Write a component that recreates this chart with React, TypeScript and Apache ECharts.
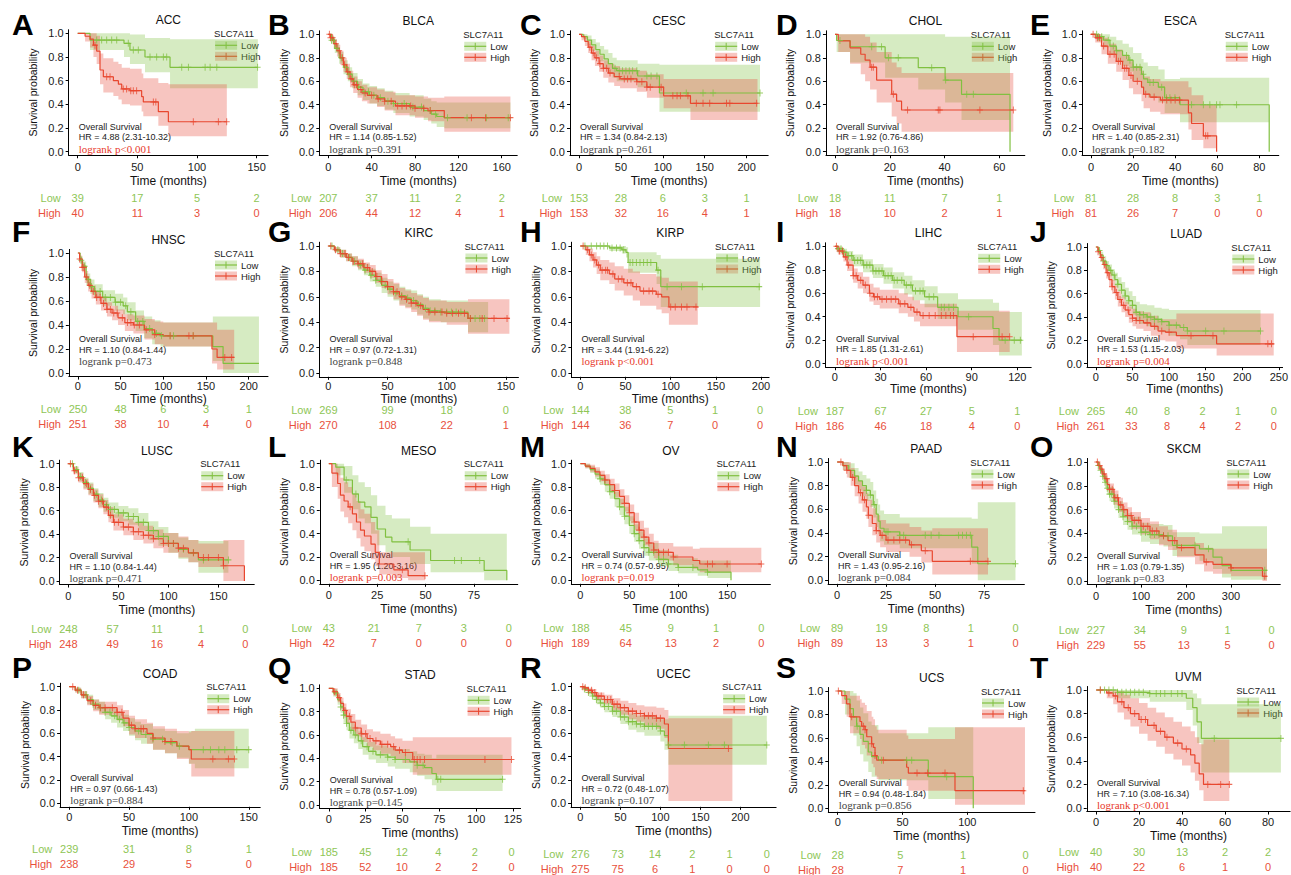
import React, { useEffect, useRef } from "react";
import * as echarts from "echarts";

// ---------------- data ----------------
const CANCERS = ["ACC","BLCA","CESC","CHOL","ESCA","HNSC","KIRC","KIRP","LIHC","LUAD","LUSC","MESO","OV","PAAD","SKCM","COAD","STAD","UCEC","UCS","UVM"];
const LETTERS = ["A","B","C","D","E","F","G","H","I","J","K","L","M","N","O","P","Q","R","S","T"];
const X_TICKS = [
  [0,50,100,150],[0,40,80,120,160],[0,50,100,150,200],[0,20,40,60],[0,20,40,60,80],
  [0,50,100,150,200],[0,50,100,150],[0,50,100,150,200],[0,30,60,90,120],[0,50,100,150,200,250],
  [0,50,100,150],[0,25,50,75],[0,50,100,150],[0,25,50,75],[0,100,200,300],
  [0,50,100,150],[0,25,50,75,100,125],[0,50,100,150,200],[0,50,100],[0,20,40,60,80],
];
const X_MAX = [152,166,215,66,85,212,153,199,123,243,177,93,185,91,390,152,124,233,145,86];
const Y_TICKS = [0,0.2,0.4,0.6,0.8,1.0];
const HR_TEXT = [
  "HR = 4.88 (2.31-10.32)","HR = 1.14 (0.85-1.52)","HR = 1.34 (0.84-2.13)","HR = 1.92 (0.76-4.86)","HR = 1.40 (0.85-2.31)",
  "HR = 1.10 (0.84-1.44)","HR = 0.97 (0.72-1.31)","HR = 3.44 (1.91-6.22)","HR = 1.85 (1.31-2.61)","HR = 1.53 (1.15-2.03)",
  "HR = 1.10 (0.84-1.44)","HR = 1.95 (1.20-3.16)","HR = 0.74 (0.57-0.95)","HR = 1.43 (0.95-2.16)","HR = 1.03 (0.79-1.35)",
  "HR = 0.97 (0.66-1.43)","HR = 0.78 (0.57-1.09)","HR = 0.72 (0.48-1.07)","HR = 0.94 (0.48-1.84)","HR = 7.10 (3.08-16.34)",
];
const P_TEXT = [
  "logrank p<0.001","logrank p=0.391","logrank p=0.261","logrank p=0.163","logrank p=0.182",
  "logrank p=0.473","logrank p=0.848","logrank p<0.001","logrank p<0.001","logrank p=0.004",
  "logrank p=0.471","logrank p=0.003","logrank p=0.019","logrank p=0.084","logrank p=0.83",
  "logrank p=0.884","logrank p=0.145","logrank p=0.107","logrank p=0.856","logrank p<0.001",
];
const P_SIG = [true,false,false,false,false,false,false,true,true,true,false,true,true,false,false,false,false,false,false,true];
const RISK_LOW = [
  [39,17,5,2],[207,37,11,2,2],[153,28,6,3,1],[18,11,7,1],[81,28,8,3,1],
  [250,48,6,3,1],[269,99,18,0],[144,38,5,1,0],[187,67,27,5,1],[265,40,8,2,1,0],
  [248,57,11,1,0],[43,21,7,3,0],[188,45,9,1,0],[89,19,8,1,0],[227,34,9,1,0],
  [239,31,8,1],[185,45,12,4,2,0],[276,73,14,2,1,0],[28,5,1,0],[40,30,13,2,2],
];
const RISK_HIGH = [
  [40,11,3,0],[206,44,12,4,1],[153,32,16,4,1],[18,10,2,1],[81,26,7,0,0],
  [251,38,10,4,0],[270,108,22,1],[144,36,7,0,0],[186,46,18,4,0],[261,33,8,4,2,0],
  [248,49,16,4,0],[42,7,0,0,0],[189,64,13,2,0],[89,13,3,1,0],[229,55,13,5,0],
  [238,29,5,0],[185,52,10,2,2,0],[275,75,6,1,0,0],[28,7,1,0],[40,22,6,1,0],
];

// curves: [time, survival, lower CI, upper CI]
const ACC_LOW = [[0,1,1,1],[10.3,0.943,0.86,1],[38.8,0.915,0.80,1],[43.8,0.859,0.74,0.99],[56.4,0.80,0.67,0.96],[77.4,0.713,0.535,0.95],[151,0.713,0.535,0.95]];
const ACC_HIGH = [[0,1,1,1],[6.2,0.975,0.93,1],[10.4,0.95,0.88,1],[13.2,0.90,0.80,1],[15.9,0.85,0.74,0.98],[18.7,0.69,0.57,0.83],[21.5,0.633,0.50,0.79],[29.9,0.60,0.47,0.76],[34.1,0.57,0.44,0.74],[36.9,0.53,0.40,0.71],[43.8,0.515,0.39,0.70],[53.6,0.465,0.34,0.66],[55,0.42,0.30,0.62],[67.6,0.338,0.22,0.58],[76,0.253,0.13,0.57],[125,0.253,0.13,0.57]];
const ACC_LOW_CENS = [15.9,20.1,24.3,28.5,32.7,42.4,46.6,50.8,60.6,66.2,71.8,74.6,87.2,92.8,106.8,111,116.6,150.8];
const ACC_HIGH_CENS = [14.5,24.3,27.1,38.2,41,44.5,46.6,49.4,63.4,65.5,96.9,117.9,124.9];

const BLCA_LOW = [[0,1,1,1],[3,0.95,0.92,0.98],[6,0.88,0.84,0.92],[10,0.80,0.75,0.85],[14,0.72,0.66,0.78],[18,0.66,0.60,0.72],[22,0.60,0.54,0.67],[27,0.55,0.48,0.62],[32,0.51,0.44,0.58],[38,0.48,0.41,0.56],[45,0.46,0.39,0.54],[52,0.43,0.36,0.52],[60,0.41,0.33,0.50],[75,0.38,0.30,0.48],[88,0.35,0.27,0.45],[95,0.32,0.24,0.43],[100,0.30,0.21,0.42],[107,0.29,0.20,0.42],[168,0.29,0.20,0.42]];
const BLCA_HIGH = [[0,1,1,1],[2,0.97,0.95,0.99],[5,0.92,0.88,0.96],[8,0.86,0.81,0.91],[11,0.80,0.74,0.86],[14,0.74,0.68,0.80],[17,0.68,0.62,0.75],[20,0.62,0.55,0.69],[23,0.57,0.50,0.64],[27,0.53,0.46,0.60],[31,0.50,0.43,0.57],[36,0.48,0.41,0.55],[45,0.45,0.38,0.53],[52,0.43,0.35,0.51],[62,0.39,0.31,0.48],[80,0.37,0.29,0.47],[92,0.35,0.26,0.46],[107,0.29,0.17,0.47],[168,0.29,0.17,0.47]];
const BLCA_LOW_CENS = [3,5,8,12,16,19,24,28,33,37,42,48,55,60,70,78,86,94,99,110,128,146,166];
const BLCA_HIGH_CENS = [1,2,4,7,10,13,15,18,21,24,26,30,34,40,46,52,58,64,68,72,76,80,88,94,132,145,168];

const CESC_LOW = [[0,1,1,1],[5,0.98,0.96,1],[10,0.95,0.91,0.99],[15,0.91,0.86,0.96],[20,0.87,0.81,0.93],[25,0.83,0.77,0.90],[30,0.79,0.72,0.87],[35,0.75,0.67,0.84],[40,0.71,0.63,0.80],[45,0.69,0.60,0.78],[70,0.645,0.55,0.75],[96,0.50,0.34,0.74],[216,0.50,0.34,0.74]];
const CESC_HIGH = [[0,1,1,1],[3,0.98,0.95,1],[7,0.94,0.90,0.98],[11,0.89,0.84,0.94],[15,0.84,0.78,0.90],[19,0.80,0.73,0.86],[24,0.75,0.68,0.82],[29,0.71,0.63,0.78],[35,0.67,0.59,0.75],[42,0.64,0.56,0.73],[49,0.62,0.54,0.71],[69,0.596,0.51,0.69],[81,0.55,0.46,0.66],[101,0.476,0.37,0.62],[133,0.412,0.27,0.62],[213,0.412,0.27,0.62]];
const CESC_LOW_CENS = [43,48,52,56,60,64,69,81,86,93,128,148,160,216];
const CESC_HIGH_CENS = [13,17,21,25,29,33,37,48,54,58,62,69,75,81,85,98,112,117,121,130,140,148,156,176,180,212];

const CHOL_LOW = [[0,1,1,1],[0.6,0.947,0.85,1],[5.5,0.894,0.76,1],[18.3,0.80,0.63,1],[30.4,0.716,0.53,1],[40.2,0.61,0.42,0.98],[46.2,0.489,0.27,0.98],[63.9,0,0,0]];
const CHOL_HIGH = [[0,1,1,1],[1.2,0.944,0.85,1],[5.5,0.885,0.75,1],[9.4,0.83,0.66,1],[11,0.78,0.60,0.98],[12.8,0.72,0.53,0.93],[15.2,0.61,0.42,0.85],[20.7,0.49,0.30,0.76],[22.5,0.43,0.24,0.72],[24.3,0.355,0.17,0.67],[65.1,0.355,0.17,0.67]];
const CHOL_LOW_CENS = [1.8,13.4,17,19.5,23.1,35.3,40.4,48.1,50.5];
const CHOL_HIGH_CENS = [13.4,14,21.3,26.5,37.7,38.3,52.9,65.1];

const ESCA_LOW = [[0,1,1,1],[3,0.98,0.94,1],[6,0.95,0.89,1],[9,0.90,0.83,0.98],[12,0.86,0.78,0.95],[15,0.82,0.73,0.92],[18,0.78,0.68,0.89],[20,0.72,0.61,0.84],[24,0.66,0.54,0.79],[25,0.62,0.50,0.76],[27,0.59,0.46,0.73],[32,0.55,0.42,0.70],[35,0.46,0.33,0.62],[42.3,0.40,0.25,0.63],[84.7,0,0,0]];
const ESCA_HIGH = [[0,1,1,1],[2,0.97,0.93,1],[5,0.90,0.83,0.97],[8,0.83,0.75,0.92],[12,0.77,0.68,0.87],[15,0.71,0.61,0.82],[18,0.65,0.54,0.77],[20,0.60,0.49,0.73],[24,0.55,0.43,0.69],[25,0.49,0.37,0.64],[28,0.465,0.34,0.62],[33,0.44,0.32,0.60],[46.3,0.33,0.19,0.55],[47.8,0.24,0.10,0.48],[53.4,0.135,0.03,0.40],[59.7,0,0,0]];
const ESCA_LOW_CENS = [2.7,3.5,5.1,8.2,10.6,12.2,16.9,18.5,20.1,21.7,23.3,24.9,28,29.6,33.6,35.9,37.5,39.9,47.8,53.4,56.5,59.7,61.3,69.2];
const ESCA_HIGH_CENS = [1,3,4,6,9,11,13,14,16,17,19,22,26,30,34,36,38,40,42,54.5,55.5];

const HNSC_LOW = [[0,1,1,1],[2.6,0.94,0.91,0.97],[5.5,0.89,0.85,0.93],[9.7,0.78,0.73,0.83],[14.5,0.72,0.66,0.78],[19.4,0.68,0.62,0.74],[29,0.63,0.56,0.69],[43.5,0.59,0.52,0.66],[53,0.56,0.49,0.63],[57.9,0.51,0.44,0.59],[67.6,0.43,0.35,0.52],[77.4,0.37,0.29,0.47],[87,0.33,0.24,0.44],[96.7,0.31,0.22,0.42],[158,0.22,0.10,0.47],[170,0.08,0,0.47],[212,0.08,0,0.47]];
const HNSC_HIGH = [[0,1,1,1],[2,0.95,0.92,0.98],[5,0.88,0.84,0.92],[8,0.80,0.75,0.85],[12,0.73,0.68,0.78],[16,0.68,0.62,0.73],[21,0.63,0.57,0.68],[27,0.58,0.52,0.64],[34,0.53,0.47,0.59],[40,0.50,0.44,0.56],[47,0.46,0.40,0.53],[55,0.42,0.35,0.49],[65,0.40,0.33,0.48],[78,0.36,0.28,0.45],[90,0.32,0.24,0.43],[100,0.31,0.22,0.42],[157,0.20,0.08,0.42],[163,0.13,0.03,0.36],[183,0.13,0.03,0.36]];
const HNSC_LOW_CENS = [4,8,12,16,20,26,32,38,44,50,56,62,70,76,84,92,98,108,112,135];
const HNSC_HIGH_CENS = [2,5,7,10,14,18,22,26,30,34,38,42,46,52,58,62,66,72,80,90,108,130,135,172,180];

const KIRC_LOW = [[0,1,1,1],[5,0.97,0.95,0.99],[10,0.94,0.91,0.97],[15,0.91,0.88,0.94],[20,0.88,0.84,0.92],[25,0.85,0.81,0.89],[30,0.81,0.77,0.86],[35,0.77,0.72,0.82],[40,0.73,0.68,0.79],[45,0.69,0.63,0.75],[50,0.66,0.60,0.72],[55,0.63,0.57,0.70],[60,0.61,0.54,0.68],[65,0.59,0.52,0.66],[70,0.57,0.50,0.65],[75,0.54,0.46,0.62],[80,0.51,0.43,0.60],[85,0.49,0.41,0.58],[95,0.48,0.40,0.57],[118,0.43,0.32,0.56],[135,0.43,0.32,0.56]];
const KIRC_HIGH = [[0,1,1,1],[5,0.97,0.95,0.99],[10,0.94,0.91,0.97],[15,0.91,0.88,0.94],[20,0.88,0.85,0.92],[25,0.86,0.82,0.90],[30,0.83,0.79,0.87],[35,0.80,0.75,0.85],[40,0.76,0.71,0.81],[45,0.72,0.67,0.78],[50,0.68,0.62,0.74],[55,0.64,0.58,0.71],[60,0.60,0.53,0.67],[65,0.58,0.51,0.65],[70,0.55,0.48,0.63],[75,0.53,0.45,0.61],[80,0.50,0.42,0.59],[85,0.48,0.40,0.57],[100,0.47,0.38,0.56],[118,0.43,0.31,0.58],[153,0.43,0.31,0.58]];
const KIRC_LOW_CENS = [3,8,12,18,22,27,31,36,40,44,48,52,57,62,67,72,76,82,86,90,95,100,104,108,112,120,124,128,132];
const KIRC_HIGH_CENS = [2,6,10,14,17,21,25,29,33,37,41,45,50,55,58,62,66,70,74,78,85,90,96,100,105,110,115,120,130,140,151];

const KIRP_LOW = [[0,1,1,1],[32,0.985,0.96,1],[46,0.97,0.94,1],[50.5,0.95,0.91,0.99],[52.8,0.87,0.79,0.95],[84.4,0.81,0.70,0.93],[89,0.68,0.52,0.90],[199,0.68,0.52,0.90]];
const KIRP_HIGH = [[0,1,1,1],[6,0.97,0.93,1],[10,0.93,0.88,0.98],[14,0.89,0.83,0.95],[18,0.85,0.78,0.92],[22,0.81,0.73,0.89],[32,0.78,0.70,0.87],[38,0.74,0.65,0.84],[48,0.71,0.61,0.82],[58,0.68,0.57,0.80],[66,0.645,0.53,0.78],[84,0.62,0.50,0.76],[90,0.60,0.47,0.75],[98,0.52,0.38,0.72],[130,0.52,0.38,0.72]];
const KIRP_LOW_CENS = [5,12,18,22,26,30,35,40,44,48,55,58,62,66,70,74,78,86,96,112,135,198];
const KIRP_HIGH_CENS = [3,8,12,16,20,24,28,30,36,42,46,52,56,62,70,76,80,86,100,105,112,118,128];

const LIHC_LOW = [[0,1,1,1],[2,0.98,0.96,1],[5,0.95,0.92,0.98],[8,0.92,0.88,0.96],[12,0.88,0.83,0.93],[18.5,0.84,0.78,0.89],[25,0.79,0.73,0.85],[32,0.75,0.68,0.82],[38,0.71,0.64,0.78],[45.6,0.67,0.59,0.75],[51,0.62,0.54,0.71],[59,0.57,0.48,0.66],[67.6,0.48,0.38,0.60],[81,0.40,0.29,0.55],[104,0.30,0.16,0.52],[108,0.20,0.07,0.44],[123,0.20,0.07,0.44]];
const LIHC_HIGH = [[0,1,1,1],[2,0.96,0.93,0.99],[5.6,0.91,0.87,0.95],[8,0.84,0.79,0.89],[12,0.75,0.69,0.81],[15,0.71,0.64,0.78],[18.5,0.67,0.60,0.74],[22.7,0.60,0.53,0.68],[25.4,0.57,0.50,0.65],[29.5,0.55,0.47,0.63],[42,0.51,0.43,0.60],[48,0.48,0.40,0.57],[52,0.44,0.36,0.54],[56,0.41,0.32,0.51],[80.3,0.23,0.10,0.45],[115,0.23,0.10,0.45]];
const LIHC_LOW_CENS = [2,4,6,9,11,13,15,17,19,21,23,25,27,29,31,33,35,37,39,41,44,47,50,53,56,58,62,65,70,72,75,78,88,112,118,122];
const LIHC_HIGH_CENS = [1,3,5,7,9,12,14,17,20,23,26,28,31,34,37,40,43,46,50,54,58,62,66,70,73,76,78,91,110,115];

const LUAD_LOW = [[0,1,1,1],[3,0.97,0.95,0.99],[6,0.93,0.90,0.96],[10,0.88,0.84,0.92],[14,0.84,0.80,0.88],[18,0.80,0.75,0.85],[22,0.76,0.71,0.81],[26,0.72,0.66,0.78],[30,0.68,0.62,0.74],[35,0.63,0.56,0.70],[40,0.58,0.51,0.65],[45,0.54,0.47,0.62],[50,0.50,0.42,0.58],[55,0.44,0.36,0.53],[60,0.42,0.34,0.51],[70,0.40,0.32,0.50],[80,0.38,0.29,0.48],[90,0.36,0.27,0.47],[100,0.33,0.24,0.46],[115,0.31,0.21,0.46],[125,0.28,0.16,0.46],[225,0.28,0.16,0.46]];
const LUAD_HIGH = [[0,1,1,1],[3,0.96,0.94,0.98],[6,0.91,0.88,0.94],[10,0.85,0.81,0.89],[14,0.78,0.73,0.83],[18,0.72,0.66,0.78],[22,0.66,0.60,0.72],[26,0.61,0.55,0.67],[30,0.55,0.49,0.62],[35,0.50,0.44,0.57],[40,0.46,0.40,0.53],[45,0.42,0.35,0.49],[50,0.39,0.32,0.47],[55,0.37,0.30,0.45],[65,0.35,0.28,0.44],[75,0.32,0.24,0.41],[85,0.28,0.20,0.38],[95,0.27,0.19,0.38],[110,0.24,0.13,0.43],[165,0.17,0.07,0.43],[243,0.17,0.07,0.43]];
const LUAD_LOW_CENS = [5,10,15,20,25,30,35,40,45,50,55,60,65,70,75,80,85,90,100,110,120,125,150,175,225];
const LUAD_HIGH_CENS = [3,8,12,16,22,28,33,38,44,50,55,60,70,80,90,100,130,160,235,240];

const LUSC_LOW = [[0,1,1,1],[5,0.95,0.92,0.98],[10,0.89,0.85,0.93],[15,0.84,0.79,0.88],[20,0.79,0.74,0.84],[25,0.74,0.68,0.79],[30,0.69,0.63,0.75],[35,0.65,0.59,0.71],[40,0.61,0.54,0.67],[50,0.58,0.51,0.64],[60,0.55,0.48,0.62],[70,0.50,0.43,0.58],[80,0.43,0.35,0.51],[90,0.38,0.30,0.46],[100,0.32,0.24,0.41],[110,0.27,0.19,0.37],[120,0.24,0.16,0.35],[130,0.18,0.07,0.34],[160,0.18,0.07,0.34]];
const LUSC_HIGH = [[0,1,1,1],[5,0.94,0.91,0.97],[10,0.88,0.84,0.92],[15,0.83,0.78,0.87],[20,0.78,0.73,0.83],[25,0.73,0.67,0.78],[30,0.68,0.62,0.74],[35,0.63,0.57,0.69],[40,0.56,0.50,0.63],[45,0.50,0.43,0.57],[55,0.46,0.39,0.53],[65,0.42,0.35,0.50],[75,0.39,0.32,0.47],[85,0.36,0.28,0.44],[95,0.32,0.24,0.41],[110,0.28,0.20,0.38],[120,0.24,0.16,0.35],[130,0.20,0.12,0.32],[155,0.13,0,0.35],[176,0,0,0]];
const LUSC_LOW_CENS = [4,8,12,17,22,28,33,38,42,46,50,55,60,65,70,75,80,85,90,95,100,105,115,125,135,160];
const LUSC_HIGH_CENS = [2,6,10,14,18,22,26,30,34,38,42,46,50,55,60,65,70,75,80,85,95,100,105,110,115,125,135,140,150,155];

const MESO_LOW = [[0,1,1,1],[3.6,0.97,0.90,1],[7.9,0.86,0.75,0.98],[12.2,0.74,0.61,0.90],[15.3,0.67,0.53,0.84],[18.6,0.63,0.49,0.80],[21.8,0.54,0.40,0.73],[25,0.44,0.30,0.64],[29.3,0.37,0.24,0.56],[32.6,0.33,0.20,0.53],[42,0.26,0.14,0.46],[52.6,0.17,0.07,0.40],[80.3,0.085,0,0.40],[92,0,0,0]];
const MESO_HIGH = [[0,1,1,1],[1.6,0.92,0.80,1],[4.6,0.83,0.70,0.97],[6,0.73,0.59,0.88],[7.9,0.68,0.54,0.84],[10,0.63,0.49,0.80],[12.2,0.57,0.43,0.74],[14.3,0.50,0.36,0.68],[16.4,0.43,0.29,0.61],[18.4,0.38,0.25,0.57],[21.8,0.31,0.18,0.50],[24,0.24,0.12,0.43],[26.1,0.14,0.05,0.24],[33.6,0.09,0.02,0.24],[41,0.04,0,0.24],[49.7,0.04,0,0.24]];
const MESO_LOW_CENS = [9,14,41,65,68.5,78];
const MESO_HIGH_CENS = [11,38,49.7];

const OV_LOW = [[0,1,1,1],[5,0.98,0.96,1],[10,0.95,0.92,0.98],[15,0.91,0.87,0.95],[20,0.87,0.82,0.91],[25,0.82,0.76,0.87],[30,0.76,0.70,0.82],[35,0.70,0.63,0.76],[40,0.63,0.56,0.70],[45,0.55,0.48,0.63],[50,0.47,0.40,0.55],[55,0.40,0.33,0.48],[60,0.34,0.27,0.42],[65,0.28,0.21,0.36],[70,0.24,0.17,0.32],[80,0.18,0.12,0.26],[90,0.14,0.08,0.22],[100,0.11,0.06,0.19],[120,0.09,0.04,0.17],[130,0.07,0.02,0.17],[154,0,0,0]];
const OV_HIGH = [[0,1,1,1],[5,0.98,0.96,1],[10,0.96,0.93,0.99],[15,0.93,0.89,0.97],[20,0.90,0.85,0.94],[25,0.86,0.81,0.91],[30,0.82,0.76,0.87],[35,0.77,0.71,0.83],[40,0.72,0.65,0.78],[45,0.66,0.59,0.73],[50,0.58,0.51,0.65],[55,0.50,0.43,0.58],[60,0.43,0.36,0.51],[65,0.37,0.30,0.45],[70,0.32,0.25,0.40],[75,0.26,0.19,0.34],[80,0.24,0.17,0.32],[95,0.20,0.13,0.29],[115,0.17,0.10,0.27],[122,0.14,0.07,0.28],[185,0.14,0.07,0.28]];
const OV_LOW_CENS = [20,30,40,45,55,60,65,70,75,80,85,90,100,115,130];
const OV_HIGH_CENS = [25,35,45,50,55,60,65,70,75,80,85,90,95,130,135,150,185];

const PAAD_LOW = [[0,1,1,1],[3,0.97,0.93,1],[6,0.93,0.87,0.99],[9,0.88,0.81,0.95],[11,0.84,0.76,0.92],[13,0.80,0.71,0.89],[15,0.76,0.67,0.86],[17,0.72,0.62,0.83],[18.5,0.64,0.53,0.76],[20,0.56,0.45,0.69],[21,0.50,0.39,0.64],[22,0.44,0.33,0.59],[24,0.41,0.30,0.56],[32,0.38,0.27,0.53],[68.7,0.28,0.14,0.52],[71.8,0.14,0,0.66],[91,0.14,0,0.66]];
const PAAD_HIGH = [[0,1,1,1],[3,0.97,0.93,1],[5,0.93,0.87,1],[7,0.87,0.80,0.95],[9,0.80,0.71,0.89],[11,0.74,0.65,0.84],[13,0.68,0.58,0.79],[15,0.62,0.52,0.74],[16,0.55,0.45,0.68],[18,0.48,0.38,0.61],[20,0.42,0.32,0.55],[22,0.38,0.28,0.51],[25,0.34,0.24,0.48],[37,0.30,0.20,0.45],[43,0.25,0.15,0.42],[48.6,0.16,0.05,0.44],[77,0.16,0.05,0.44]];
const PAAD_LOW_CENS = [15,17,19,25,26,32,34,45,48,52,62,64,66,68,91];
const PAAD_HIGH_CENS = [2,5,8,12,14,16,20,23,26,29,32,35,38,45,68,77];

const SKCM_LOW = [[0,1,1,1],[5,0.97,0.95,0.99],[10,0.93,0.90,0.96],[15,0.88,0.84,0.92],[20,0.83,0.78,0.88],[25,0.78,0.73,0.83],[30,0.73,0.67,0.79],[40,0.67,0.61,0.73],[50,0.60,0.53,0.67],[60,0.54,0.47,0.61],[70,0.50,0.43,0.57],[80,0.46,0.39,0.54],[100,0.41,0.33,0.49],[120,0.39,0.31,0.48],[150,0.38,0.29,0.47],[170,0.30,0.21,0.41],[230,0.27,0.17,0.40],[260,0.20,0.10,0.40],[280,0.13,0.03,0.46],[300,0.09,0.01,0.46],[380,0.09,0.01,0.46]];
const SKCM_HIGH = [[0,1,1,1],[5,0.97,0.95,0.99],[10,0.94,0.91,0.97],[15,0.90,0.86,0.94],[20,0.86,0.82,0.90],[25,0.81,0.76,0.86],[30,0.77,0.72,0.82],[40,0.70,0.64,0.76],[50,0.64,0.58,0.70],[60,0.60,0.54,0.66],[70,0.55,0.49,0.62],[80,0.51,0.44,0.58],[100,0.46,0.39,0.53],[120,0.42,0.35,0.50],[140,0.38,0.30,0.46],[160,0.34,0.26,0.43],[180,0.28,0.20,0.37],[220,0.22,0.14,0.32],[240,0.16,0.08,0.28],[260,0.14,0.06,0.27],[300,0.11,0.04,0.27],[370,0.04,0,0.27],[380,0.04,0,0.27]];
const SKCM_LOW_CENS = [5,10,15,20,25,30,35,40,50,60,70,80,90,100,110,120,130,140,150,160,180,220,250,375];
const SKCM_HIGH_CENS = [3,8,12,18,24,30,36,42,48,55,62,70,78,85,95,105,115,125,135,150,175,190,245,300,375];

const COAD_LOW = [[0,1,1,1],[5,0.97,0.95,0.99],[10,0.93,0.90,0.96],[15,0.89,0.85,0.93],[20,0.85,0.80,0.89],[25,0.82,0.77,0.87],[30,0.78,0.72,0.83],[35,0.75,0.69,0.81],[40,0.72,0.65,0.78],[45,0.69,0.62,0.76],[50,0.65,0.58,0.73],[55,0.62,0.54,0.70],[60,0.59,0.51,0.68],[70,0.55,0.46,0.64],[80,0.52,0.43,0.62],[90,0.49,0.39,0.60],[100,0.46,0.34,0.62],[105,0.46,0.30,0.64],[150,0.46,0.30,0.64]];
const COAD_HIGH = [[0,1,1,1],[5,0.97,0.95,0.99],[10,0.93,0.90,0.96],[15,0.88,0.84,0.92],[20,0.84,0.79,0.89],[25,0.82,0.76,0.87],[40,0.78,0.71,0.84],[45,0.73,0.66,0.80],[50,0.67,0.59,0.75],[55,0.64,0.56,0.72],[65,0.60,0.51,0.69],[70,0.56,0.46,0.66],[80,0.53,0.43,0.64],[90,0.49,0.38,0.62],[100,0.46,0.34,0.61],[102,0.38,0.23,0.62],[138,0.38,0.23,0.62]];
const COAD_LOW_CENS = [8,14,20,26,30,34,38,42,46,50,58,64,70,78,86,92,112,118,125,130,140,150];
const COAD_HIGH_CENS = [3,7,12,18,22,26,30,36,40,44,52,55,60,62,70,80,85,120,133,138];

const STAD_LOW = [[0,1,1,1],[3,0.96,0.93,0.99],[6,0.90,0.86,0.94],[8,0.84,0.79,0.89],[10,0.77,0.71,0.83],[12,0.70,0.64,0.77],[14,0.64,0.57,0.71],[17,0.60,0.53,0.67],[20,0.55,0.48,0.63],[23,0.50,0.43,0.58],[27,0.46,0.39,0.54],[32,0.43,0.36,0.51],[40,0.41,0.33,0.49],[45,0.39,0.31,0.48],[55,0.37,0.28,0.46],[60,0.34,0.25,0.44],[65,0.32,0.22,0.43],[70,0.27,0.17,0.40],[73,0.22,0.12,0.43],[118,0.22,0.12,0.43]];
const STAD_HIGH = [[0,1,1,1],[3,0.97,0.94,1],[6,0.92,0.88,0.96],[8,0.87,0.82,0.92],[10,0.81,0.75,0.87],[12,0.76,0.70,0.82],[15,0.71,0.64,0.78],[18,0.66,0.59,0.73],[22,0.61,0.54,0.69],[26,0.57,0.50,0.65],[30,0.55,0.47,0.63],[35,0.52,0.44,0.61],[42,0.50,0.42,0.59],[45,0.47,0.39,0.57],[50,0.45,0.36,0.55],[57,0.39,0.26,0.58],[124,0.39,0.26,0.58]];
const STAD_LOW_CENS = [5,8,10,12,15,18,22,26,30,35,40,45,52,60,64,74,76,118];
const STAD_HIGH_CENS = [4,7,11,14,18,22,25,28,32,36,40,44,48,52,58,60,62,65,106,124];

const UCEC_LOW = [[0,1,1,1],[5,0.98,0.96,1],[10,0.95,0.93,0.97],[15,0.92,0.89,0.95],[20,0.89,0.85,0.93],[25,0.86,0.82,0.90],[30,0.83,0.78,0.88],[40,0.79,0.74,0.84],[50,0.74,0.68,0.80],[60,0.70,0.63,0.77],[70,0.68,0.61,0.75],[80,0.66,0.58,0.74],[100,0.62,0.53,0.72],[105,0.58,0.46,0.72],[110,0.50,0.33,0.75],[233,0.50,0.33,0.75]];
const UCEC_HIGH = [[0,1,1,1],[5,0.99,0.98,1],[10,0.97,0.95,0.99],[15,0.95,0.92,0.98],[20,0.92,0.89,0.95],[30,0.89,0.85,0.93],[40,0.85,0.80,0.90],[50,0.82,0.76,0.88],[60,0.79,0.72,0.86],[70,0.77,0.70,0.84],[80,0.75,0.67,0.83],[95,0.73,0.64,0.82],[105,0.68,0.56,0.80],[110,0.47,0.02,0.73],[190,0.47,0.02,0.73]];
const UCEC_LOW_CENS = [5,10,15,20,25,30,35,40,45,50,55,60,65,70,75,80,85,90,95,100,110,130,160,180,233];
const UCEC_HIGH_CENS = [3,6,10,14,18,22,26,30,34,38,42,46,50,55,60,65,70,75,80,85,90,95,100,185];

const UCS_LOW = [[0,1,1,1],[5.6,0.93,0.80,1],[9.5,0.85,0.70,1],[12.1,0.78,0.62,0.98],[14.6,0.70,0.53,0.92],[17.2,0.63,0.46,0.86],[19.8,0.57,0.40,0.81],[23.6,0.48,0.31,0.74],[26.2,0.44,0.27,0.71],[31.4,0.41,0.24,0.64],[69.9,0.27,0.08,0.69],[104.6,0,0,0]];
const UCS_HIGH = [[0,1,1,1],[3.1,0.96,0.89,1],[6.9,0.89,0.78,1],[9.5,0.78,0.64,0.96],[17.2,0.74,0.59,0.93],[18.5,0.70,0.54,0.90],[21.1,0.67,0.51,0.88],[22.4,0.61,0.45,0.83],[26.2,0.55,0.38,0.78],[27.5,0.52,0.35,0.76],[28.8,0.45,0.28,0.70],[30.1,0.41,0.25,0.67],[53.2,0.35,0.19,0.62],[54.5,0.30,0.15,0.59],[90.5,0.15,0.03,0.69],[144.5,0.15,0.03,0.69]];
const UCS_LOW_CENS = [15,33.9,53.2,57.1,84.1];
const UCS_HIGH_CENS = [0.5,10.8,19.8,21.1,26.2,28.8,35.2,61.2,69.4,82.8,143.2];

const UVM_LOW = [[0,1,1,1],[10,0.98,0.93,1],[25,0.97,0.90,1],[42,0.93,0.83,1],[45,0.85,0.70,0.97],[47,0.73,0.55,0.93],[49,0.59,0.30,0.88],[86,0.59,0.30,0.88]];
const UVM_HIGH = [[0,1,1,1],[5,0.975,0.93,1],[8,0.95,0.88,1],[10,0.90,0.81,0.99],[13,0.85,0.75,0.96],[16,0.80,0.69,0.93],[20,0.75,0.63,0.89],[24,0.70,0.57,0.85],[28,0.65,0.52,0.81],[32,0.60,0.46,0.77],[36,0.55,0.41,0.73],[40,0.50,0.36,0.69],[44,0.45,0.30,0.65],[46,0.38,0.23,0.60],[48,0.29,0.15,0.54],[50,0.20,0.06,0.58],[62,0.20,0.06,0.58]];
const UVM_LOW_CENS = [2,4,6,8,10,12,14,16,18,20,22,25,28,30,32,35,38,40,55,86];
const UVM_HIGH_CENS = [2,6,9,12,15,18,21,23,27,30,33,38,42,52,58,62];

const CURVES_LOW = [ACC_LOW,BLCA_LOW,CESC_LOW,CHOL_LOW,ESCA_LOW,HNSC_LOW,KIRC_LOW,KIRP_LOW,LIHC_LOW,LUAD_LOW,LUSC_LOW,MESO_LOW,OV_LOW,PAAD_LOW,SKCM_LOW,COAD_LOW,STAD_LOW,UCEC_LOW,UCS_LOW,UVM_LOW];
const CURVES_HIGH = [ACC_HIGH,BLCA_HIGH,CESC_HIGH,CHOL_HIGH,ESCA_HIGH,HNSC_HIGH,KIRC_HIGH,KIRP_HIGH,LIHC_HIGH,LUAD_HIGH,LUSC_HIGH,MESO_HIGH,OV_HIGH,PAAD_HIGH,SKCM_HIGH,COAD_HIGH,STAD_HIGH,UCEC_HIGH,UCS_HIGH,UVM_HIGH];
const CENS_LOW = [ACC_LOW_CENS,BLCA_LOW_CENS,CESC_LOW_CENS,CHOL_LOW_CENS,ESCA_LOW_CENS,HNSC_LOW_CENS,KIRC_LOW_CENS,KIRP_LOW_CENS,LIHC_LOW_CENS,LUAD_LOW_CENS,LUSC_LOW_CENS,MESO_LOW_CENS,OV_LOW_CENS,PAAD_LOW_CENS,SKCM_LOW_CENS,COAD_LOW_CENS,STAD_LOW_CENS,UCEC_LOW_CENS,UCS_LOW_CENS,UVM_LOW_CENS];
const CENS_HIGH = [ACC_HIGH_CENS,BLCA_HIGH_CENS,CESC_HIGH_CENS,CHOL_HIGH_CENS,ESCA_HIGH_CENS,HNSC_HIGH_CENS,KIRC_HIGH_CENS,KIRP_HIGH_CENS,LIHC_HIGH_CENS,LUAD_HIGH_CENS,LUSC_HIGH_CENS,MESO_HIGH_CENS,OV_HIGH_CENS,PAAD_HIGH_CENS,SKCM_HIGH_CENS,COAD_HIGH_CENS,STAD_HIGH_CENS,UCEC_HIGH_CENS,UCS_HIGH_CENS,UVM_HIGH_CENS];

// ---------------- layout (pixels): x of t=0, px per month, y of S=1, y of S=0, risk row y, text offset ----------------
const LAYOUT = [
  [77.7,1.193,33.3,151.7,198,25],[328.3,1.084,34.3,151.7,198,25],[579,0.838,34.3,151.7,198,25],[835,2.739,34.3,151.7,198,25],[1091,2.104,34.3,151.7,198,25],
  [77.9,0.854,253,373,409,34],[328.4,1.183,246,373,410,34],[580.4,0.903,246,373,410,34],[834.9,1.52,246.3,363.7,411,25],[1096,0.742,247,363.7,411,25],
  [68.4,1.0,463.7,581,628.7,25],[328.8,1.935,463.7,580.3,627.7,25],[580.4,0.978,463.7,580.3,627.7,25],[837,1.961,462,580.3,627.7,25],[1096,0.45,462,581,629.7,25],
  [69.2,1.197,686.7,803.3,849.3,25],[328.8,1.473,688.3,805,852.3,25],[580.4,0.80,686.7,803.3,854.3,25],[837.7,1.296,691,808.3,855,25],[1096,2.15,690,808,852,25],
];
// per row: tick label margin, axis-name gap
const ROW_AXIS = [[6, 20], [4, 14], [6, 19], [5, 18]];
const LETTER_X = [12,268,520,776,1030];
const LETTER_Y = [24,231,446,667];

const SANS = "'Liberation Sans', Arial, Helvetica, sans-serif";
const SERIF = "'Liberation Serif', 'Times New Roman', serif";
const GREEN = "#80c040";
const RED = "#e8472f";
const GREEN_FILL = "rgba(130,195,70,0.33)";
const RED_FILL = "rgba(230,80,65,0.33)";
const LOW_TXT = "#8ec656";
const HIGH_TXT = "#e8503c";
const SIG_RED = "#e8392b";

function stepAt(curve: number[][], t: number) {
  let s = 1;
  for (const p of curve) {
    if (p[0] <= t) s = p[1];
    else break;
  }
  return s;
}

function gridOf(i: number) {
  const [x0, ppu, y1, y0] = LAYOUT[i];
  const D = X_MAX[i];
  const h = y0 - y1;
  return { left: x0 - 0.05 * D * ppu, top: y1 - 0.03 * h, width: 1.1 * D * ppu, height: 1.06 * h };
}

// confidence band drawn as a stepped polygon through the cartesian coordinate system
function bandRenderer(curve: number[][], fill: string) {
  return (params: any, api: any) => {
    if (params.dataIndex !== 0) return null;
    const pts: number[][] = [];
    const n = curve.length;
    for (let k = 0; k < n; k++) {
      pts.push(api.coord([curve[k][0], curve[k][3]]));
      if (k < n - 1) pts.push(api.coord([curve[k + 1][0], curve[k][3]]));
    }
    for (let k = n - 1; k >= 0; k--) {
      if (k < n - 1) pts.push(api.coord([curve[k + 1][0], curve[k][2]]));
      pts.push(api.coord([curve[k][0], curve[k][2]]));
    }
    return { type: "polygon", shape: { points: pts }, style: { fill, stroke: "none" }, silent: true };
  };
}

function buildOption() {
  const grid: any[] = [];
  const xAxis: any[] = [];
  const yAxis: any[] = [];
  const series: any[] = [];
  CANCERS.forEach((_, i) => {
    const D = X_MAX[i];
    const [lblMargin, nameGap] = ROW_AXIS[Math.floor(i / 5)];
    grid.push(gridOf(i));
    xAxis.push({
      type: "value", gridIndex: i, min: -0.05 * D, max: 1.05 * D,
      axisLine: { show: true, onZero: false, lineStyle: { color: "#000", width: 1 } },
      axisTick: { show: true, length: 3, customValues: X_TICKS[i], lineStyle: { color: "#000" } },
      axisLabel: { customValues: X_TICKS[i], fontSize: 11, color: "#1a1a1a", margin: lblMargin, fontFamily: SANS },
      splitLine: { show: false },
      name: "Time (months)", nameLocation: "middle", nameGap,
      nameTextStyle: { fontSize: 12, color: "#111", fontFamily: SANS },
    });
    yAxis.push({
      type: "value", gridIndex: i, min: -0.03, max: 1.03,
      axisLine: { show: true, onZero: false, lineStyle: { color: "#000", width: 1 } },
      axisTick: { show: true, length: 3, customValues: Y_TICKS, lineStyle: { color: "#000" } },
      axisLabel: { customValues: Y_TICKS, fontSize: 11, color: "#1a1a1a", margin: 5, fontFamily: SANS, formatter: (v: number) => v.toFixed(1) },
      splitLine: { show: false },
      name: "Survival probability", nameLocation: "middle", nameGap: 30,
      nameTextStyle: { fontSize: 10.5, color: "#111", fontFamily: SANS },
    });
    const groups: any[] = [
      [CURVES_LOW[i], CENS_LOW[i], GREEN, GREEN_FILL],
      [CURVES_HIGH[i], CENS_HIGH[i], RED, RED_FILL],
    ];
    groups.forEach(([curve, , , fill]) => {
      series.push({
        type: "custom", coordinateSystem: "cartesian2d", xAxisIndex: i, yAxisIndex: i,
        data: [[curve[0][0], curve[0][1]]], encode: { x: 0, y: 1 },
        renderItem: bandRenderer(curve, fill), silent: true, z: 1, clip: false,
      });
    });
    groups.forEach(([curve, , color]) => {
      series.push({
        type: "line", xAxisIndex: i, yAxisIndex: i, step: "end",
        data: curve.map((p: number[]) => [p[0], p[1]]), symbol: "none", showSymbol: false,
        lineStyle: { width: 1.2, color }, silent: true, z: 3,
      });
    });
    groups.forEach(([curve, cens, color]) => {
      series.push({
        type: "scatter", xAxisIndex: i, yAxisIndex: i,
        data: cens.map((t: number) => [t, stepAt(curve, t)]),
        symbol: "path://M5,0L5,10M0,5L10,5", symbolSize: [6, 7],
        itemStyle: { color: "rgba(0,0,0,0)", borderColor: color, borderWidth: 1 },
        silent: true, z: 4,
      });
    });
  });
  return { animation: false, backgroundColor: "#fff", grid, xAxis, yAxis, series };
}

function buildGraphics(chart: any) {
  const els: any[] = [];
  const txt = (x: number, y: number, text: string, size: number, color: string, align = "left", family = SANS, weight = "normal") => {
    els.push({
      type: "text", x, y, silent: true,
      style: { text, fill: color, fontSize: size, fontFamily: family, fontWeight: weight, align, verticalAlign: "middle", textAlign: align, textVerticalAlign: "middle" },
    });
  };
  CANCERS.forEach((name, i) => {
    const [x0, , y1, y0, riskY, tOff] = LAYOUT[i];
    const g = gridOf(i);
    const right = g.left + g.width;
    const col = i % 5;
    const row = Math.floor(i / 5);
    txt(LETTER_X[col], LETTER_Y[row], LETTERS[i], 30, "#000", "left", SANS, "bold");
    txt(g.left + g.width / 2, y1 - 13, name, 12, "#111", "center");
    // legend
    txt(right - 54, y1, "SLC7A11", 9.5, "#222");
    [[GREEN, GREEN_FILL, "Low", 12], [RED, RED_FILL, "High", 23]].forEach(([c, f, label, dy]: any) => {
      const yc = y1 + dy;
      const kx = right - 53;
      els.push({ type: "rect", silent: true, shape: { x: kx, y: yc - 4.5, width: 22, height: 9 }, style: { fill: f } });
      els.push({ type: "line", silent: true, shape: { x1: kx, y1: yc, x2: kx + 22, y2: yc }, style: { stroke: c, lineWidth: 1.2 } });
      els.push({ type: "line", silent: true, shape: { x1: kx + 11, y1: yc - 3.5, x2: kx + 11, y2: yc + 3.5 }, style: { stroke: c, lineWidth: 1 } });
      txt(kx + 26, yc, label, 9.5, "#222");
    });
    // statistics text
    txt(x0 + 1, y0 - tOff, "Overall Survival", 9, "#222");
    txt(x0 + 1, y0 - tOff + 10.5, HR_TEXT[i], 9, "#222");
    txt(x0 + 1, y0 - tOff + 22, P_TEXT[i], 11, P_SIG[i] ? SIG_RED : "#444", "left", SERIF);
    // risk table
    txt(x0 - 17, riskY, "Low", 11, LOW_TXT, "right");
    txt(x0 - 17, riskY + 15, "High", 11, HIGH_TXT, "right");
    const D = X_MAX[i];
    const step = X_TICKS[i][1];
    const rMax = (RISK_LOW[i].length - 1) * step;
    const scale = D / Math.max(D, rMax);
    RISK_LOW[i].forEach((n, k) => {
      const px = chart.convertToPixel({ xAxisIndex: i }, k * step * scale);
      txt(px, riskY, String(n), 11, LOW_TXT, "center");
      txt(px, riskY + 15, String(RISK_HIGH[i][k]), 11, HIGH_TXT, "center");
    });
  });
  return els;
}

export default function App() {
  const ref = useRef<HTMLDivElement | null>(null);
  useEffect(() => {
    document.body.style.margin = "0";
    if (!ref.current) return;
    const chart = echarts.init(ref.current, undefined, { renderer: "svg" });
    chart.setOption(buildOption() as any);
    chart.setOption({ graphic: { elements: buildGraphics(chart) } } as any);
    return () => chart.dispose();
  }, []);
  return <div ref={ref} style={{ width: 1291, height: 875, background: "#fff" }} />;
}
